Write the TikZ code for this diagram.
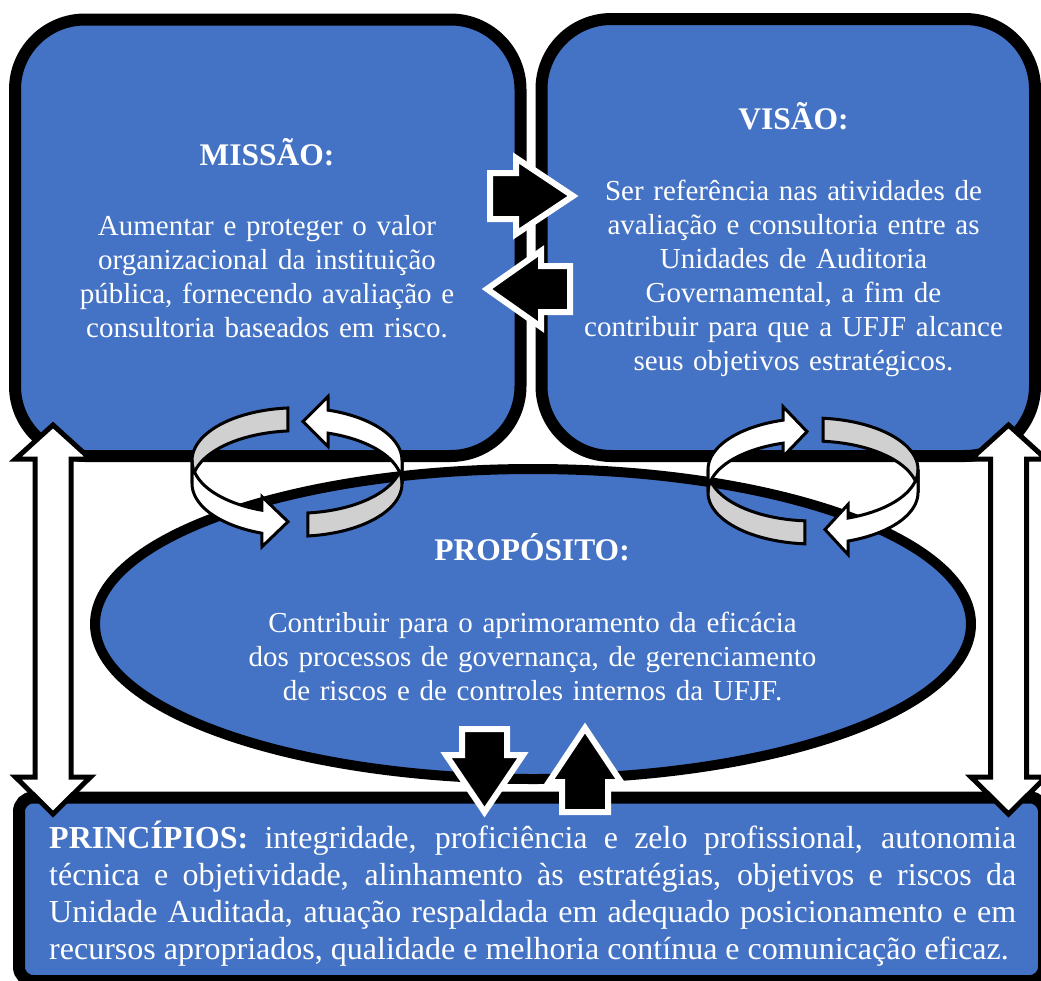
\documentclass[tikz,border=0pt]{standalone}
\usepackage{fontspec}
\setmainfont{Liberation Serif}
\usepackage{tikz}
\usepackage{xcolor}
\definecolor{azul}{RGB}{68,114,196}
\definecolor{cinza}{RGB}{208,208,208}

\begin{document}
\begin{tikzpicture}[x=1pt,y=-1pt,
  caixa/.style={fill=azul, draw=black, line width=12pt},
  seta/.style={fill=black, draw=white, line width=6pt},
  setadupla/.style={fill=white, draw=black, line width=5pt},
  anel/.style={fill=white, draw=black, line width=3pt},
  aneltras/.style={fill=cinza, draw=black, line width=3pt},
  titulo/.style={text=white, font=\fontsize{31.5}{36}\selectfont\bfseries, anchor=base, inner sep=0pt},
  texto/.style={text=white, font=\fontsize{29}{34}\selectfont, align=center, anchor=base, inner sep=0pt}]
\useasboundingbox (0,0) rectangle (1041,980);
\draw[caixa, rounded corners=70] (15,19.5) rectangle (520.5,456);
\draw[caixa, rounded corners=70] (541.5,19) rectangle (1035,456);
\draw[caixa, line width=10pt] (533,624) ellipse [x radius=438, y radius=155];
\draw[caixa, rounded corners=14] (19,797.5) rectangle (1044,981);
\node[titulo] (missaotitulo) at (267,165) {MISSÃO:};
\node[texto, text width=420] (missaotexto) at (267,235) {Aumentar e proteger o valor\\ organizacional da instituição\\ pública, fornecendo avaliação e\\ consultoria baseados em risco.};
\node[titulo] (visaotitulo) at (793.5,129) {VISÃO:};
\node[texto, text width=440] (visaotexto) at (793.5,200) {Ser referência nas atividades de\\ avaliação e consultoria entre as\\ Unidades de Auditoria\\ Governamental, a fim de\\ contribuir para que a UFJF alcance\\ seus objetivos estratégicos.};
\node[titulo] (propositotitulo) at (532,560) {PROPÓSITO:};
\node[texto, text width=620] (propositotexto) at (532.5,632) {Contribuir para o aprimoramento da eficácia\\ dos processos de governança, de gerenciamento\\ de riscos e de controles internos da UFJF.};
\node[text=white, anchor=base west, inner sep=0pt, text width=967, align=justify,
  font=\fontsize{32}{37.3}\selectfont] (principiostexto) at (49,848)
  {\tolerance=10000\relax\hbadness=10000\relax
   \textbf{PRINCÍPIOS:} integridade, proficiência e zelo profissional, autonomia\linebreak
   técnica e objetividade, alinhamento às estratégias, objetivos e riscos da\linebreak
   Unidade Auditada, atuação respaldada em adequado posicionamento e em\linebreak
   recursos apropriados, qualidade e melhoria contínua e comunicação eficaz.};
\draw[setadupla] (53,425) -- (90.5,459) -- (71,459) -- (71,777) -- (90.5,777) -- (53,814) -- (15.5,777) -- (35,777) -- (35,459) -- (15.5,459) -- cycle;
\draw[setadupla] (1008.5,425) -- (1046,459) -- (1026.5,459) -- (1026.5,777) -- (1046,777) -- (1008.5,814) -- (971,777) -- (990.5,777) -- (990.5,459) -- (971,459) -- cycle;
\draw[seta] (490,173) -- (516,173) -- (516,158) -- (573,196) -- (516,234) -- (516,219) -- (490,219) -- cycle;
\draw[seta] (570,266) -- (541,266) -- (541,251) -- (487,289) -- (541,327) -- (541,312) -- (570,312) -- cycle;
\draw[seta] (462,729) -- (507,729) -- (507,755) -- (523,755) -- (484.5,812) -- (446,755) -- (462,755) -- cycle;
\draw[seta] (562,812) -- (608,812) -- (608,782) -- (621,782) -- (585,728) -- (549,782) -- (562,782) -- cycle;
\draw[aneltras] plot[domain=95:180] ({297+105*cos(\x)},{472-52.75*sin(\x)-11.5}) -- plot[domain=180:95] ({297+105*cos(\x)},{472-52.75*sin(\x)+11.5}) -- cycle;
\draw[aneltras] plot[domain=276:360] ({297+105*cos(\x)},{472-52.75*sin(\x)-11.5}) -- plot[domain=360:276] ({297+105*cos(\x)},{472-52.75*sin(\x)+11.5}) -- cycle;
\draw[anel] plot[domain=180:250.5] ({297+105*cos(\x)},{472-52.75*sin(\x)-11.5}) -- (262,496.7) -- (288,521.7) -- (262,546.7) -- plot[domain=250.5:180] ({297+105*cos(\x)},{472-52.75*sin(\x)+11.5}) -- cycle;
\draw[anel] plot[domain=0:72.8] ({297+105*cos(\x)},{472-52.75*sin(\x)-11.5}) -- (328,396.6) -- (303,421.6) -- (328,446.6) -- plot[domain=72.8:0] ({297+105*cos(\x)},{472-52.75*sin(\x)+11.5}) -- cycle;
\draw[aneltras] plot[domain=84.5:0] ({813+105*cos(\x)},{481-51.5*sin(\x)-11.5}) -- plot[domain=0:84.5] ({813+105*cos(\x)},{481-51.5*sin(\x)+11.5}) -- cycle;
\draw[aneltras] plot[domain=265.6:180] ({813+105*cos(\x)},{481-51.5*sin(\x)-11.5}) -- plot[domain=180:265.6] ({813+105*cos(\x)},{481-51.5*sin(\x)+11.5}) -- cycle;
\draw[anel] plot[domain=180:106.6] ({813+105*cos(\x)},{481-51.5*sin(\x)-11.5}) -- (783,406.6) -- (807,431.6) -- (783,456.6) -- plot[domain=106.6:180] ({813+105*cos(\x)},{481-51.5*sin(\x)+11.5}) -- cycle;
\draw[anel] plot[domain=360:289.5] ({813+105*cos(\x)},{481-51.5*sin(\x)-11.5}) -- (848,504.5) -- (825,529.5) -- (848,554.5) -- plot[domain=289.5:360] ({813+105*cos(\x)},{481-51.5*sin(\x)+11.5}) -- cycle;
\end{tikzpicture}
\end{document}
